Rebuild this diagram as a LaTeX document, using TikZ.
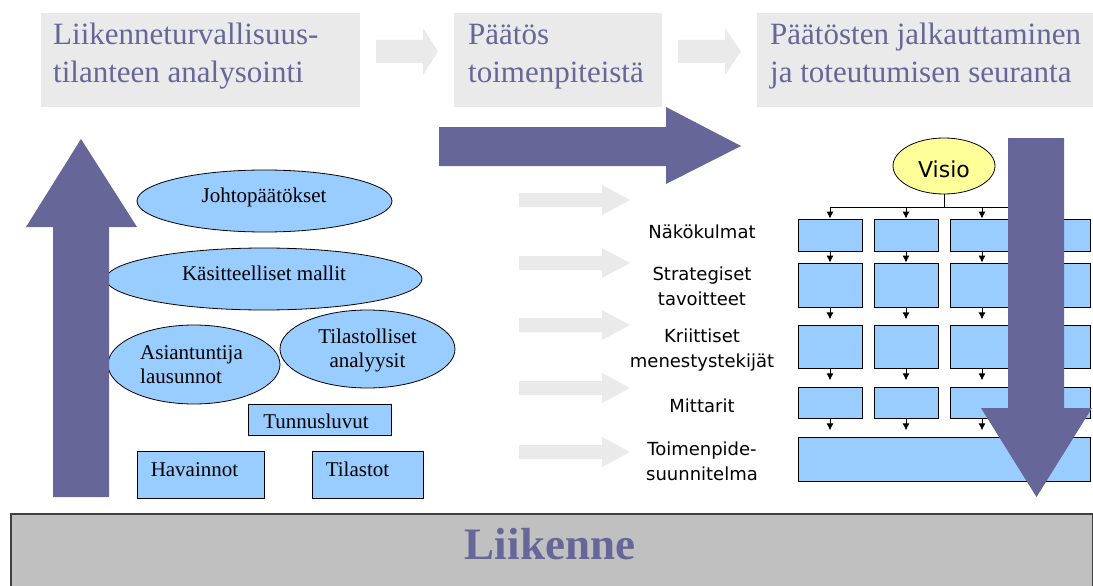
\documentclass[tikz,border=0pt]{standalone}
\usepackage{fontspec}
\setmainfont{Liberation Serif}
\newfontfamily\sansf{DejaVu Sans}
\usetikzlibrary{shapes.geometric,arrows.meta}
\definecolor{purp}{HTML}{666699}
\definecolor{lgray}{HTML}{EAEAEA}
\definecolor{lblue}{HTML}{99CCFF}
\definecolor{lyel}{HTML}{FFFF99}
\definecolor{liik}{HTML}{C0C0C0}
\tikzset{
  topbox/.style={fill=lgray,draw=none,inner sep=0pt},
  toptext/.style={text=purp,font=\fontsize{31}{37}\selectfont,align=left,inner sep=0pt,anchor=base west},
  bigarrow/.style={fill=purp,draw=none},
  smallarrow/.style={fill=lgray,draw=none},
  ell/.style={ellipse,fill=lblue,draw=black,line width=0.8pt,inner sep=0pt},
  lrect/.style={rectangle,fill=lblue,draw=black,line width=0.8pt,inner sep=0pt},
  serift/.style={font=\fontsize{21}{24}\selectfont,inner sep=0pt,anchor=base},
  sanst/.style={font=\sansf\fontsize{18}{25}\selectfont,inner sep=0pt,align=center,anchor=base},
  gbox/.style={rectangle,fill=lblue,draw=black,line width=0.8pt,inner sep=0pt,minimum width=64pt},
  garrow/.style={-{Latex[length=7pt,width=7pt]},line width=1pt},
}
\begin{document}
\begin{tikzpicture}[x=1pt,y=-1pt]
\useasboundingbox (0,0) rectangle (1093,586);
% top boxes
\node[topbox,minimum width=319pt,minimum height=94pt] (b1) at (200.5,60) {};
\node[topbox,minimum width=208pt,minimum height=94pt] (b2) at (558,60) {};
\node[topbox,minimum width=336pt,minimum height=94pt] (b3) at (925,60) {};
\node[toptext] (t1) at (53,82) {Liikenneturvallisuus-\\tilanteen analysointi};
\node[toptext] (t2) at (468,82) {Päätös\\toimenpiteistä};
\node[toptext] (t3) at (770,82) {Päätösten jalkauttaminen\\ja toteutumisen seuranta};
% small top arrows
\fill[smallarrow] (376,40) -- (423,40) -- (423,28) -- (438,51.5) -- (423,75) -- (423,63) -- (376,63) -- cycle;
\fill[smallarrow] (678,40) -- (725,40) -- (725,28) -- (741,51.5) -- (725,75) -- (725,63) -- (678,63) -- cycle;
% big horizontal arrow
\fill[bigarrow] (439,127) -- (666,127) -- (666,107) -- (741,146) -- (666,184) -- (666,166) -- (439,166) -- cycle;
% left ellipses and rects
\node[ell,minimum width=255pt,minimum height=62pt] (e1) at (264.5,201) {};
\node[ell,minimum width=316pt,minimum height=62pt] (e2) at (264,279) {};
\node[ell,minimum width=172pt,minimum height=79pt] (e3) at (194,364.5) {};
\node[ell,minimum width=175pt,minimum height=78pt] (e4) at (367.5,349) {};
\node[lrect,minimum width=143pt,minimum height=31pt] (r1) at (319.5,419.5) {};
\node[lrect,minimum width=127pt,minimum height=47pt] (r2) at (200.5,474.5) {};
\node[lrect,minimum width=111pt,minimum height=47pt] (r3) at (367.5,474.5) {};
\node[serift] (te1) at (264,202) {Johtopäätökset};
\node[serift] (te2) at (264,280) {Käsitteelliset mallit};
\node[serift,anchor=base west,align=left] (te3) at (140,383) {Asiantuntija\\lausunnot};
\node[serift,align=center] (te4) at (367.5,367) {Tilastolliset\\analyysit};
\node[serift] (tr1) at (316,428) {Tunnusluvut};
\node[serift] (tr2) at (194.5,476) {Havainnot};
\node[serift] (tr3) at (357.5,476) {Tilastot};
% left up arrow
\fill[bigarrow] (53,497) -- (53,227) -- (26,227) -- (81,139) -- (137,227) -- (109,227) -- (109,497) -- cycle;
% middle gray arrows
\foreach \yy in {200,263,325,388,452}{
  \fill[smallarrow] (519,\yy-7) -- (602,\yy-7) -- (602,\yy-15) -- (630,\yy) -- (602,\yy+15) -- (602,\yy+7) -- (519,\yy+7) -- cycle;
}
% middle labels
\node[sanst] (l1) at (702,238) {Näkökulmat};
\node[sanst] (l2) at (702,305) {Strategiset\\tavoitteet};
\node[sanst] (l3) at (702,367) {Kriittiset\\menestystekijät};
\node[sanst] (l4) at (702,412) {Mittarit};
\node[sanst] (l5) at (702,480) {Toimenpide-\\suunnitelma};
% grid
\node[ellipse,fill=lyel,draw=black,line width=0.8pt,minimum width=102pt,minimum height=56pt,inner sep=0pt] (visio) at (944,166) {};
\node[font=\sansf\fontsize{22}{26}\selectfont,inner sep=0pt,anchor=base] (vt) at (944,177) {Visio};
\foreach \c/\x in {1/830,2/906,3/982,4/1058}{
  \node[gbox,minimum height=32pt] (ra\c) at (\x,235) {};
  \node[gbox,minimum height=44pt] (rb\c) at (\x,285) {};
  \node[gbox,minimum height=43pt] (rc\c) at (\x,346.5) {};
  \node[gbox,minimum height=31pt] (rd\c) at (\x,402.5) {};
}
\node[gbox,minimum width=292pt,minimum height=44pt] (re) at (944,459) {};
\coordinate (hl) at (830,207);
\coordinate (hr) at (1058,207);
\draw[line width=0.8pt] (visio.south) -- (944,207);
\draw[line width=0.8pt] (hl) -- (hr);
\foreach \c in {1,2,3,4}{
  \draw[garrow] (ra\c.north |- hl) -- (ra\c.north);
  \draw[garrow] (ra\c.south) -- (rb\c.north);
  \draw[garrow] (rb\c.south) -- ++(0,12);
  \draw[garrow] (rc\c.south) -- ++(0,12);
  \draw[garrow] (rd\c.south) -- ++(0,12);
}
% big down arrow
\fill[bigarrow] (1008,138) -- (1064,138) -- (1064,408) -- (1092,408) -- (1036.5,497) -- (981,408) -- (1008,408) -- cycle;
% bottom box
\node[rectangle,fill=liik,draw=black!75,line width=1.5pt,minimum width=1082pt,minimum height=80pt,inner sep=0pt,anchor=north west] (liikenne) at (10,513) {};
\node[text=purp,font=\bfseries\fontsize{45}{50}\selectfont,inner sep=0pt,anchor=base] (lt) at (550,559) {Liikenne};
\end{tikzpicture}
\end{document}
